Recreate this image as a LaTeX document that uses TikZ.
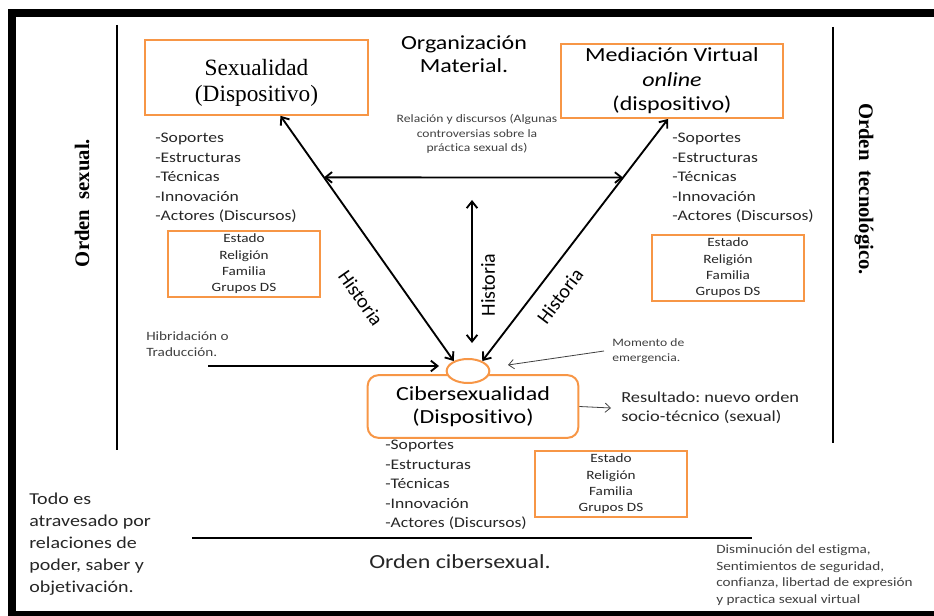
\documentclass[tikz,border=0pt]{standalone}
\usepackage{fontspec}
\setmainfont{Carlito}[FakeStretch=1.2, Ligatures=NoCommon]
\newfontfamily\serifface{Liberation Serif}
\newfontfamily\sansface{Carlito}[Ligatures=NoCommon]
\usetikzlibrary{arrows.meta,shapes.geometric}
\definecolor{boxorange}{RGB}{247,150,70}
\definecolor{softgray}{RGB}{64,64,64}
\newcommand{\fsz}[2]{\fontsize{#1}{#2}\selectfont}
\frenchspacing

\begin{document}
\begin{tikzpicture}[x=0.75pt, y=-0.75pt,
    mainbox/.style={draw=boxorange, line width=1.5pt, align=center, inner sep=1pt},
    groupbox/.style={draw=boxorange, line width=1.5pt, align=center, minimum width=114pt,
        minimum height=49.5pt, inner sep=0pt, text=black!85, font=\fsz{9.5pt}{12.3pt}},
    listtext/.style={anchor=west, align=left, inner sep=0pt, text=black!85, font=\fsz{11pt}{14.6pt}},
    smalltext/.style={align=left, text=softgray, inner sep=0pt, font=\fsz{8.5pt}{10.9pt}},
    histlabel/.style={inner sep=1pt, font=\sansface\fsz{15pt}{18pt}},
    ordenlabel/.style={inner sep=0pt, font=\serifface\bfseries\fsz{15.5pt}{18pt}},
    bigarrow/.style={line width=1.4pt, {Straight Barb[length=5pt,width=8pt]}-{Straight Barb[length=5pt,width=8pt]}},
    onearrow/.style={line width=1.4pt, -{Straight Barb[length=5pt,width=8pt]}},
    thinarrow/.style={softgray, line width=0.6pt, -{Straight Barb[length=4pt,width=7pt]}},
    rule/.style={line width=1.8pt}]
        \useasboundingbox (0,0) rectangle (934,616);

        % Frame
        \fill (8,9.5) rectangle (934,17);
        \fill (8,9.5) rectangle (16,616);
        \fill (8,611) rectangle (934,616);

        % Separating lines
        \draw[rule] (117,25) -- (117,450);
        \draw[rule] (833,27) -- (833,443);
        \draw[rule] (192,538) -- (752,538);

        % Dispositivos
        \node[mainbox, minimum width=167pt, minimum height=56pt, font=\serifface\fsz{17.5pt}{19pt}] (sex) at (256.5,77.5) {\rule{0pt}{20pt}Sexualidad\\(Dispositivo)};
        \node[mainbox, minimum width=166.5pt, minimum height=55.5pt, font=\fsz{15pt}{18.5pt}] (med) at (672,81) {Mediación Virtual\\\textit{online}\\(dispositivo)};
        \node[mainbox, rounded corners=8pt, minimum width=158pt, minimum height=47pt, font=\fsz{15pt}{17pt}] (ciber) at (473,406.5) {Cibersexualidad\\(Dispositivo)};
        \node[ellipse, draw=boxorange, line width=1.5pt, fill=white, minimum width=32pt, minimum height=18pt, inner sep=0pt] (emerge) at (468,371) {};

        % Lists and group boxes
        \foreach \px/\py/\nm in {155/178/listsex, 672/178/listmed, 385/485/listciber} {
            \node[listtext] (\nm) at (\px,\py) {-Soportes\\-Estructuras\\-Técnicas\\-Innovación\\-Actores (Discursos)};
        }
        \foreach \px/\py/\nm in {244/264/grpsex, 728/268/grpmed, 611/484/grpciber} {
            \node[groupbox] (\nm) at (\px,\py) {Estado\\Religión\\Familia\\Grupos DS};
        }

        % Texts
        \node[align=center, inner sep=0pt, font=\fsz{15pt}{17.3pt}] (orgmat) at (464,54) {Organización\\Material.};
        \node[smalltext, align=center] (relacion) at (477,134) {Relación y discursos (Algunas\\controversias sobre la\\práctica sexual ds)};
        \node[smalltext, anchor=west, font=\fsz{9.5pt}{12pt}] (hibrida) at (146,344) {Hibridación o\\Traducción.};
        \node[smalltext, anchor=west, inner xsep=6pt] (momento) at (604,351) {Momento de\\emergencia.};
        \node[anchor=west, align=left, inner xsep=7.5pt, inner ysep=0pt, text=black!85, font=\fsz{11.5pt}{13.9pt}] (resultado) at (611,408) {Resultado: nuevo orden\\socio-técnico (sexual)};
        \node[anchor=west, align=left, inner sep=0pt, text=black!85, font=\fsz{12.5pt}{16.5pt}] (todo) at (29,544) {Todo es\\atravesado por\\relaciones de\\poder, saber y\\objetivación.};
        \node[inner sep=0pt, text=black!85, font=\fsz{15pt}{18pt}] (ordciber) at (460,562) {Orden cibersexual.};
        \node[smalltext, anchor=west, font=\fsz{9.5pt}{12.4pt}] (disminuye) at (716,575) {Disminución del estigma,\\Sentimientos de seguridad,\\confianza, libertad de expresión\\y practica sexual virtual};
        \node[ordenlabel, rotate=90] (ordsex) at (82,203) {Orden\ \ sexual.};
        \node[ordenlabel, rotate=-90] (ordtec) at (864,189) {Orden\ \ tecnológico.};

        % Historia arrows
        \draw[bigarrow] (sex.-58) -- coordinate[pos=0.251] (crossl) (emerge.145);
        \draw[bigarrow] (med.-96) -- coordinate[pos=0.242] (crossr) (emerge.35);
        \draw[bigarrow] (crossl) -- (crossr);
        \coordinate (histtop) at (472,200);
        \coordinate (histbot) at (472,343);
        \draw[bigarrow] (histtop) -- (histbot);
        \node[histlabel, rotate=-55] (histsex) at (361,298) {Historia};
        \node[histlabel, rotate=90] (histmid) at (488,285) {Historia};
        \node[histlabel, rotate=53] (histmed) at (560,296) {Historia};

        % Side arrows
        \coordinate (hibstart) at (208,366);
        \draw[onearrow, shorten >=5pt] (hibstart) -- (hibstart -| emerge.west);
        \coordinate (momtip) at (508,365);
        \draw[thinarrow] (momento.west) -- (momtip);
        \draw[thinarrow] (ciber.east) -- (resultado.west);
\end{tikzpicture}
\end{document}
